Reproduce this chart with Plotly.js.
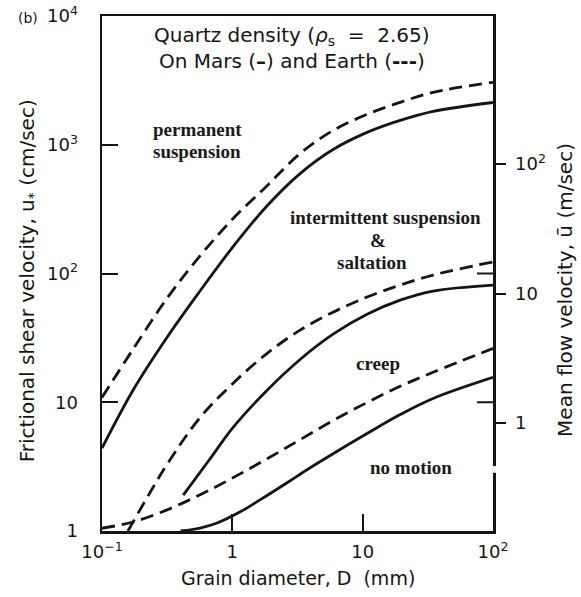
<!DOCTYPE html>
<html>
<head>
<meta charset="utf-8">
<script src="https://cdn.plot.ly/plotly-3.0.1.min.js"></script>
<style>html,body{margin:0;padding:0;background:#fff;}#chart{width:581px;height:597px;}</style>
</head>
<body>
<div id="chart"></div>
<script>
// Grain diameter D (mm) and frictional shear velocity u* (cm/sec) for each threshold curve
const marsSuspD  = [0.1, 0.173, 0.316, 0.565, 1.01, 1.85, 3.31, 5.93, 10.8, 19.4, 34.7, 100];
const marsSuspU  = [4.4, 12.4, 32, 73.1, 161, 336, 597, 918, 1247, 1545, 1816, 2130];
const earthSuspD = [0.1, 0.173, 0.316, 0.565, 1.01, 1.85, 3.31, 5.93, 10.8, 19.4, 34.7, 100];
const earthSuspU = [10.9, 25.8, 64.4, 137, 266, 481, 855, 1291, 1722, 2135, 2555, 3057];
const marsSaltD  = [0.42, 0.675, 1.01, 1.85, 3.31, 5.93, 10.8, 19.4, 34.7, 100];
const marsSaltU  = [1.9, 3.64, 6.35, 12.4, 21.5, 33.8, 48.3, 62.1, 73.1, 81.3];
const earthSaltD = [0.158, 0.233, 0.316, 0.565, 1.01, 1.85, 3.31, 5.93, 10.8, 19.4, 34.7, 100];
const earthSaltU = [1.0, 1.98, 3.3, 7.6, 14.0, 24.0, 36.3, 50.1, 65.6, 81.3, 97.3, 123];
const marsCreepD  = [0.4, 0.565, 0.764, 1.15, 1.63, 2.63, 3.74, 5.93, 10.8, 19.4, 34.7, 100];
const marsCreepU  = [1.0, 1.055, 1.154, 1.41, 1.745, 2.37, 2.99, 3.98, 5.71, 8.02, 10.7, 15.6];
const earthCreepD = [0.1, 0.173, 0.316, 0.565, 1.01, 1.85, 3.31, 5.93, 10.8, 19.4, 34.7, 100];
const earthCreepU = [1.05, 1.175, 1.46, 1.91, 2.59, 3.64, 5.12, 7.21, 9.95, 13.3, 17.1, 26.2];

// Tick labels
const xTickVals = [0.1, 1, 10, 100];
const xTickText = ['10<sup>\u22121</sup>', '1', '10', '10<sup>2</sup>'];
const yTickVals = [1, 10, 100, 1000, 10000];
const yTickText = ['1', '10', '10<sup>2</sup>', '10<sup>3</sup>', '10<sup>4</sup>'];
const y2TickVals = [1, 10, 100];
const y2TickText = ['1', '10', '10<sup>2</sup>'];
const mirrorTicks = [10, 100];

const Y_RANGE = [0, 4];
const INK = '#151515';
const solid = {color: INK, width: 2.8, shape: 'spline', smoothing: 1};
const dashed = {color: INK, width: 2.8, shape: 'spline', smoothing: 1, dash: '13px,7px'};

function tr(x, y, line) {
  return {x: x, y: y, type: 'scatter', mode: 'lines', line: line, hoverinfo: 'skip', showlegend: false};
}

const data = [
  tr(marsSuspD, marsSuspU, solid),
  tr(earthSuspD, earthSuspU, dashed),
  tr(marsSaltD, marsSaltU, solid),
  tr(earthSaltD, earthSaltU, dashed),
  tr(marsCreepD, marsCreepU, solid),
  tr(earthCreepD, earthCreepU, dashed),
  {x: [1], y: [1], yaxis: 'y2', type: 'scatter', mode: 'markers', marker: {opacity: 0}, hoverinfo: 'skip', showlegend: false}
];

const sans = 'DejaVu Sans, sans-serif';
const serif = 'Liberation Serif, Times New Roman, serif';
function ann(text, x, y, opts) {
  return Object.assign({text: text, x: x, y: y, xref: 'paper', yref: 'paper', showarrow: false,
    xanchor: 'center', yanchor: 'middle', font: {family: sans, size: 20, color: INK}}, opts || {});
}
const regionFont = {family: serif, size: 19, color: '#1a1a1a', weight: 'bold'};
function yFrac(v) { return (Math.log10(v) - Y_RANGE[0]) / (Y_RANGE[1] - Y_RANGE[0]); }

const layout = {
  width: 581, height: 597,
  margin: {l: 102, r: 88, t: 16, b: 66},
  paper_bgcolor: '#fff', plot_bgcolor: '#fff',
  showlegend: false,
  xaxis: {
    type: 'log', range: [-1, 2], tickmode: 'array', tickvals: xTickVals, ticktext: xTickText,
    ticks: 'inside', ticklen: 17, tickwidth: 2, tickcolor: INK,
    showline: true, linewidth: 2.5, linecolor: INK, mirror: true,
    showgrid: false, zeroline: false, ticklabelstandoff: 3,
    tickfont: {family: sans, size: 18, color: INK}
  },
  yaxis: {
    type: 'log', range: Y_RANGE, tickmode: 'array', tickvals: yTickVals, ticktext: yTickText,
    ticks: 'inside', ticklen: 16, tickwidth: 2, tickcolor: INK,
    showline: true, linewidth: 2.5, linecolor: INK,
    showgrid: false, zeroline: false, ticklabelstandoff: 18,
    tickfont: {family: sans, size: 18, color: INK}
  },
  yaxis2: {
    type: 'log', overlaying: 'y', side: 'right', range: [-0.834, 3.143],
    tickmode: 'array', tickvals: y2TickVals, ticktext: y2TickText,
    ticks: 'outside', ticklen: 10, tickwidth: 2, tickcolor: INK,
    showline: true, linewidth: 2.5, linecolor: INK,
    showgrid: false, zeroline: false, ticklabelstandoff: 6,
    tickfont: {family: sans, size: 18, color: INK}
  },
  shapes: mirrorTicks.map(v => ({type: 'line', xref: 'paper', yref: 'paper', x0: 1, x1: 1 - 16 / 391,
    y0: yFrac(v), y1: yFrac(v), line: {color: INK, width: 2}, layer: 'above'})).concat([
    {type: 'rect', xref: 'paper', yref: 'paper', x0: 0.99, x1: 1.01, y0: 0.113, y1: 0.126,
     fillcolor: '#fff', line: {width: 0}, layer: 'above'}
  ]),
  annotations: [
    ann('(b)', -0.189, 0.996, {font: {family: sans, size: 14, color: INK}}),
    ann('Quartz density (<i>\u03c1</i><sub>s</sub> \u00a0=\u00a0 2.65)', 0.486, 0.962),
    ann('On Mars (<b>\u2013</b>) and Earth (<b>---</b>)', 0.486, 0.912),
    ann('permanent', 0.243, 0.779, {font: regionFont}),
    ann('suspension', 0.243, 0.736, {font: regionFont}),
    ann('intermittent suspension', 0.726, 0.608, {font: regionFont}),
    ann('&amp;', 0.706, 0.565, {font: regionFont}),
    ann('saltation', 0.691, 0.522, {font: regionFont}),
    ann('creep', 0.706, 0.326, {font: regionFont}),
    ann('no motion', 0.790, 0.124, {font: regionFont}),
    ann('Frictional shear velocity, u<sub>*</sub> (cm/sec)', -0.189, 0.485, {textangle: -90}),
    ann('Mean flow velocity, \u016b (m/sec)', 1.184, 0.468, {textangle: -90}),
    ann('Grain diameter, D \u00a0(mm)', 0.501, -0.091, {font: {family: sans, size: 19, color: INK}})
  ]
};

Plotly.newPlot('chart', data, layout, {displayModeBar: false, staticPlot: true});
</script>
</body>
</html>
